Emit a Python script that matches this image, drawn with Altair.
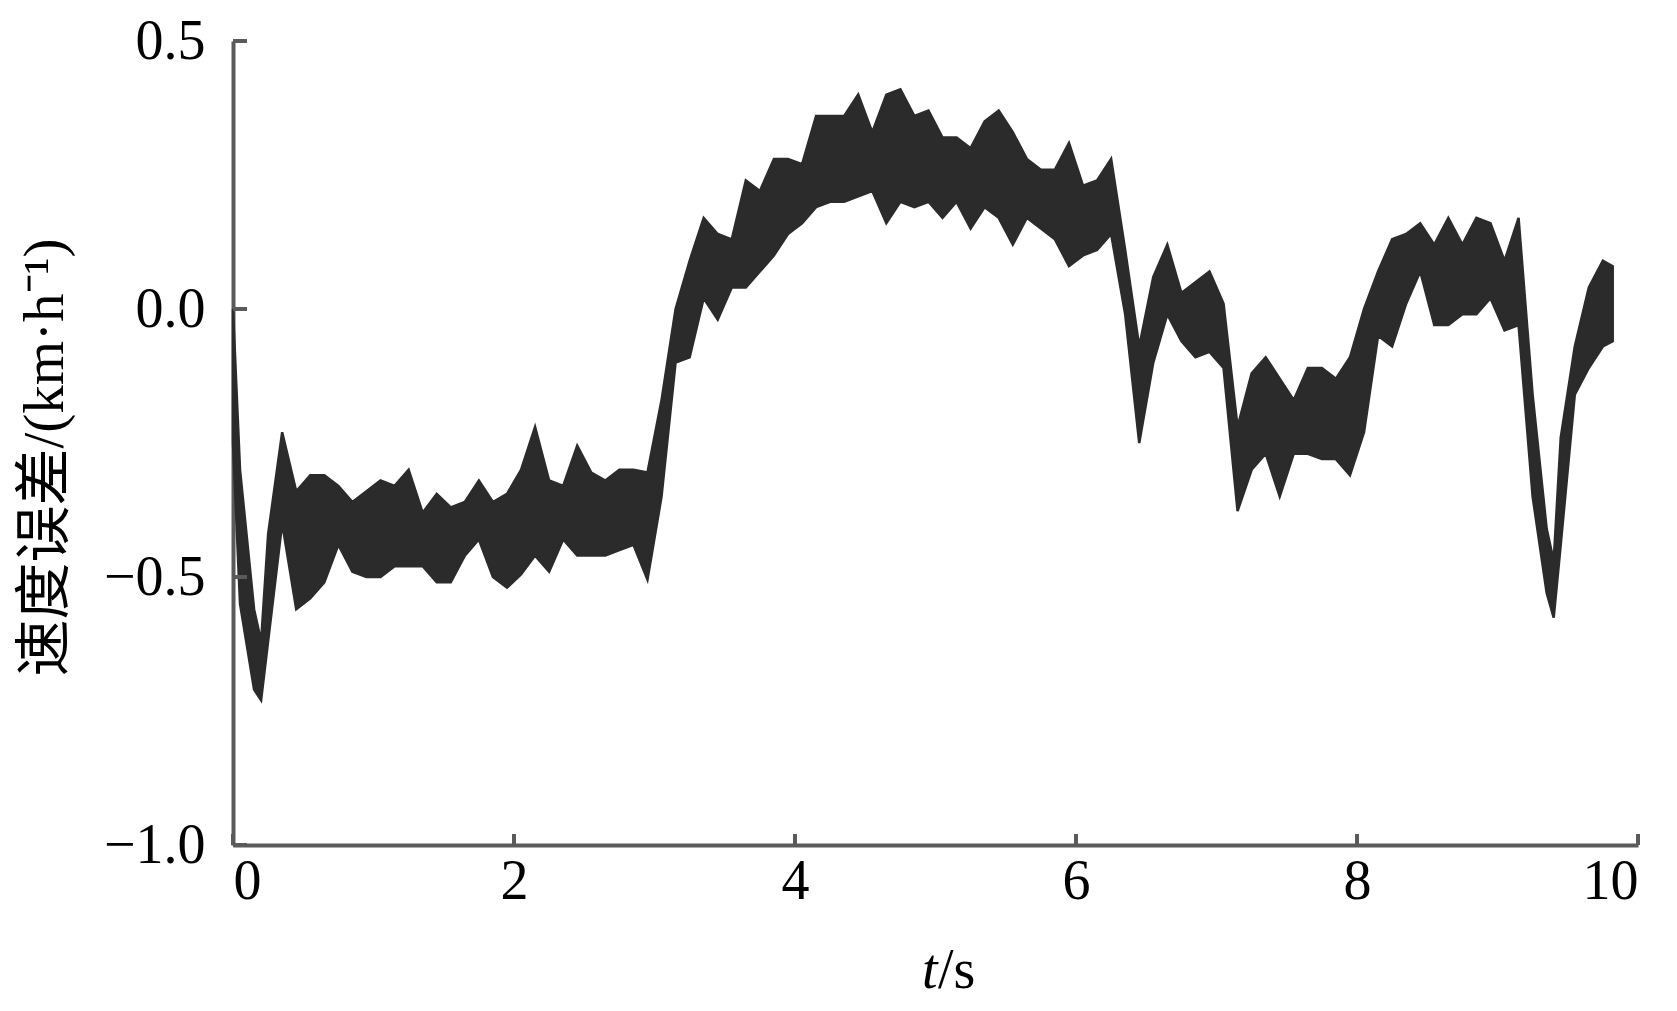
import altair as alt
import pandas as pd

# time (s) sample points, with upper / lower envelope of the noisy trace
t_s = [0.00, 0.05, 0.15, 0.20, 0.25, 0.35, 0.45, 0.55, 0.65, 0.75, 0.85, 0.95,
       1.05, 1.15, 1.25, 1.35, 1.45, 1.55, 1.65, 1.75, 1.85, 1.95,
       2.05, 2.15, 2.25, 2.35, 2.45, 2.55, 2.65, 2.75, 2.85, 2.95,
       3.05, 3.15, 3.25, 3.35, 3.45, 3.55, 3.65, 3.75, 3.85, 3.95,
       4.05, 4.15, 4.25, 4.35, 4.45, 4.55, 4.65, 4.75, 4.85, 4.95,
       5.05, 5.15, 5.25, 5.35, 5.45, 5.55, 5.65, 5.75, 5.85, 5.95,
       6.05, 6.15, 6.25, 6.35, 6.45, 6.55, 6.65, 6.75, 6.85, 6.95,
       7.05, 7.15, 7.25, 7.35, 7.45, 7.55, 7.65, 7.75, 7.85, 7.95,
       8.05, 8.15, 8.25, 8.35, 8.45, 8.55, 8.65, 8.75, 8.85, 8.95,
       9.05, 9.15, 9.25, 9.35, 9.40, 9.45, 9.55, 9.65, 9.75, 9.82]
err_hi = [0.00, -0.30, -0.56, -0.62, -0.42, -0.23, -0.34, -0.31, -0.31, -0.33, -0.36, -0.34,
          -0.32, -0.33, -0.30, -0.38, -0.345, -0.37, -0.36, -0.32, -0.36, -0.345,
          -0.30, -0.22, -0.32, -0.33, -0.255, -0.305, -0.32, -0.30, -0.30, -0.305,
          -0.17, 0.00, 0.09, 0.17, 0.14, 0.13, 0.24, 0.22, 0.28, 0.28,
          0.27, 0.36, 0.36, 0.36, 0.40, 0.33, 0.40, 0.41, 0.36, 0.37,
          0.32, 0.32, 0.30, 0.35, 0.37, 0.33, 0.28, 0.26, 0.26, 0.31,
          0.23, 0.24, 0.28, 0.11, -0.07, 0.06, 0.12, 0.03, 0.05, 0.07,
          0.01, -0.22, -0.12, -0.09, -0.13, -0.17, -0.11, -0.11, -0.13, -0.09,
          0.00, 0.07, 0.13, 0.14, 0.16, 0.12, 0.17, 0.12, 0.17, 0.16,
          0.09, 0.17, -0.16, -0.41, -0.47, -0.24, -0.07, 0.04, 0.09, 0.08]
err_lo = [-0.25, -0.55, -0.71, -0.73, -0.62, -0.40, -0.56, -0.54, -0.51, -0.44, -0.49, -0.50,
          -0.50, -0.48, -0.48, -0.48, -0.51, -0.51, -0.46, -0.43, -0.50, -0.52,
          -0.495, -0.46, -0.49, -0.43, -0.46, -0.46, -0.46, -0.45, -0.44, -0.505,
          -0.35, -0.10, -0.09, 0.02, -0.02, 0.04, 0.04, 0.07, 0.10, 0.14,
          0.16, 0.19, 0.20, 0.20, 0.21, 0.22, 0.16, 0.20, 0.19, 0.20,
          0.17, 0.20, 0.15, 0.19, 0.17, 0.12, 0.17, 0.15, 0.13, 0.08,
          0.10, 0.11, 0.14, -0.01, -0.25, -0.10, -0.01, -0.06, -0.09, -0.08,
          -0.11, -0.377, -0.30, -0.27, -0.35, -0.27, -0.27, -0.28, -0.28, -0.31,
          -0.23, -0.05, -0.07, 0.01, 0.07, -0.03, -0.03, -0.01, -0.01, 0.02,
          -0.04, -0.03, -0.35, -0.53, -0.576, -0.44, -0.16, -0.11, -0.07, -0.06]

x_ticks = [0, 2, 4, 6, 8, 10]
y_ticks = [-1.0, -0.5, 0.0, 0.5]

W, H = 1405, 804
FONT = "Liberation Serif, Times New Roman, Noto Sans CJK SC"
AXIS_COLOR = "#5a5a5a"
LINE_COLOR = "#2b2b2b"

df = pd.DataFrame({"t": t_s, "hi": err_hi, "lo": err_lo})
xs = alt.Scale(domain=[0, 10], nice=False, zero=False)
ys = alt.Scale(domain=[-1.0, 0.5], nice=False, zero=False)

x_axis = alt.Axis(
    values=x_ticks, format="d", ticks=False, grid=False,
    domainColor=AXIS_COLOR, domainWidth=4, labelPadding=9,
    labelFont=FONT, labelFontSize=56, labelColor="#000", title=None)
y_axis = alt.Axis(
    values=y_ticks, format=".1f", ticks=False, grid=False,
    domainColor=AXIS_COLOR, domainWidth=4, labelPadding=28,
    labelFont=FONT, labelFontSize=56, labelColor="#000",
    title="速度误差/(km·h⁻¹)", titleFont=FONT, titleFontSize=57,
    titleFontWeight="normal", titleColor="#000", titleAngle=270,
    titleX=-171, titleY=416, titleAlign="center", titleBaseline="alphabetic")

band = alt.Chart(df).mark_area(
    interpolate="linear", color=LINE_COLOR, stroke=LINE_COLOR, strokeWidth=2.5
).encode(
    x=alt.X("t:Q", scale=xs, axis=x_axis),
    y=alt.Y("hi:Q", scale=ys, axis=y_axis),
    y2="lo:Q",
)

xt = alt.Chart(pd.DataFrame({"t": x_ticks})).mark_rule(
    color=AXIS_COLOR, strokeWidth=4
).encode(x=alt.X("t:Q", scale=xs, axis=x_axis), y=alt.value(H), y2=alt.value(H - 11))

yt = alt.Chart(pd.DataFrame({"hi": y_ticks})).mark_rule(
    color=AXIS_COLOR, strokeWidth=4
).encode(y=alt.Y("hi:Q", scale=ys, axis=y_axis), x=alt.value(0), x2=alt.value(14))

title_t = alt.Chart(pd.DataFrame({"s": ["t"]})).mark_text(
    font=FONT, fontSize=56, fontStyle="italic", align="left", baseline="alphabetic", color="#000"
).encode(text="s:N", x=alt.value(689), y=alt.value(947))

title_s = alt.Chart(pd.DataFrame({"s": ["/s"]})).mark_text(
    font=FONT, fontSize=56, align="left", baseline="alphabetic", color="#000"
).encode(text="s:N", x=alt.value(705), y=alt.value(947))

chart = alt.layer(band, xt, yt, title_t, title_s).properties(
    width=W, height=H,
    autosize=alt.AutoSizeParams(type="none"),
    padding={"left": 225, "top": 33, "right": 25, "bottom": 158},
    background="white",
).configure_view(stroke=None)

chart.save("out.html", embed_options={"renderer": "svg", "actions": False})
